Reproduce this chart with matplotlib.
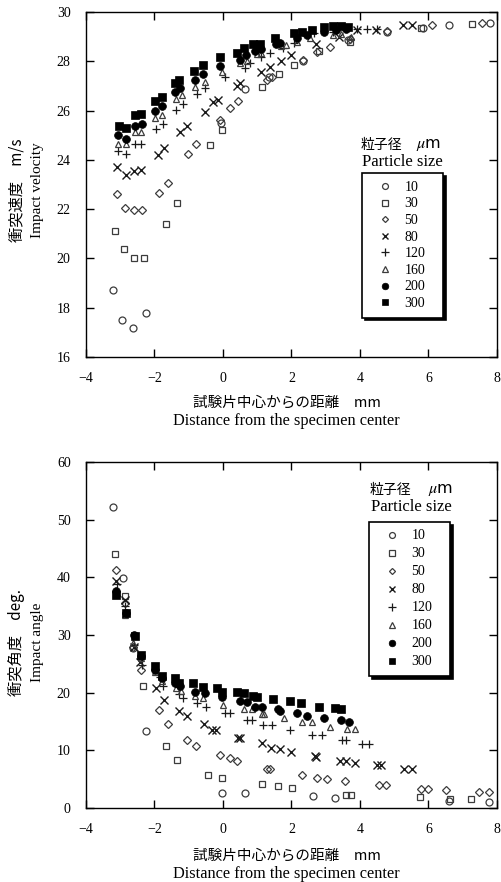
import matplotlib
matplotlib.use("Agg")
import matplotlib.pyplot as plt

plt.rcParams['mathtext.fontset'] = 'stix'
SERIF = ['Liberation Serif', 'Noto Sans CJK JP']
JP = ['Noto Sans CJK JP', 'Liberation Serif']

sizes = ['10', '30', '50', '80', '120', '160', '200', '300']

# ---- impact velocity (m/s) vs distance (mm) ----
vel_x_10 = [-3.21, -2.94, -2.64, -2.25, -0.05, 0.64, 1.33, 2.35, 3.65, 4.8, 5.85, 6.59, 7.8]
vel_y_10 = [18.72, 17.5, 17.17, 17.78, 25.5, 26.86, 27.35, 28.0, 28.85, 29.2, 29.35, 29.47, 29.55]
vel_x_30 = [-3.16, -2.89, -2.60, -2.31, -1.67, -1.34, -0.38, -0.04, 1.13, 1.64, 2.06, 2.8, 3.72, 5.77, 7.28]
vel_y_30 = [21.13, 20.37, 20.0, 20.0, 21.4, 22.26, 24.6, 25.21, 26.95, 27.48, 27.85, 28.4, 28.8, 29.34, 29.51]
vel_x_50 = [-3.09, -2.87, -2.60, -2.36, -1.86, -1.60, -1.03, -0.79, -0.09, 0.21, 0.43, 1.28, 1.43,
            2.33, 2.74, 3.11, 3.7, 4.79, 6.11, 7.57]
vel_y_50 = [22.62, 22.06, 21.97, 21.96, 22.64, 23.05, 24.23, 24.65, 25.62, 26.09, 26.4, 27.24, 27.37,
            28.05, 28.39, 28.57, 28.9, 29.24, 29.47, 29.54]
vel_x_80 = [-3.09, -2.84, -2.60, -2.38, -1.91, -1.72, -1.27, -1.04, -0.54, -0.28, -0.16, 0.40, 0.49,
            1.12, 1.37, 1.69, 2.0, 2.72, 3.4, 3.9, 4.48, 5.27, 5.52]
vel_y_80 = [23.72, 23.39, 23.56, 23.6, 24.2, 24.47, 25.14, 25.38, 25.96, 26.36, 26.43, 27.0, 27.1,
            27.58, 27.78, 28.02, 28.26, 28.7, 29.0, 29.27, 29.27, 29.47, 29.47]
vel_x_120 = [-3.07, -2.83, -2.57, -2.38, -1.96, -1.76, -1.36, -1.16, -0.75, -0.53, 0.06, 0.64, 0.79,
             1.12, 1.37, 1.76, 2.06, 2.65, 3.2, 3.9, 4.2, 4.5]
vel_y_120 = [24.37, 24.24, 24.65, 24.65, 25.24, 25.44, 26.02, 26.26, 26.67, 26.9, 27.35, 27.72, 27.94,
             28.19, 28.32, 28.54, 28.74, 29.15, 29.2, 29.3, 29.3, 29.3]
vel_x_160 = [-3.06, -2.82, -2.57, -2.38, -1.99, -1.79, -1.36, -1.21, -0.82, -0.53, -0.04, 0.49, 0.69,
             0.98, 1.12, 1.70, 1.85, 2.15, 2.55, 3.2, 3.45, 3.75]
vel_y_160 = [24.65, 24.65, 25.12, 25.15, 25.69, 25.82, 26.46, 26.63, 26.97, 27.17, 27.58, 27.94, 28.02,
             28.3, 28.33, 28.6, 28.65, 28.8, 28.95, 29.05, 29.1, 29.0]
vel_x_200 = [-3.06, -2.82, -2.57, -2.36, -1.99, -1.79, -1.40, -1.25, -0.82, -0.58, -0.09, 0.49, 0.66,
             0.93, 1.12, 1.56, 1.66, 2.15, 2.45, 2.95, 3.3, 3.6]
vel_y_200 = [25.0, 24.85, 25.37, 25.45, 26.0, 26.2, 26.75, 26.9, 27.25, 27.5, 27.8, 28.06, 28.25,
             28.4, 28.5, 28.7, 28.75, 28.95, 29.05, 29.2, 29.25, 29.3]
vel_x_300 = [-3.03, -2.82, -2.57, -2.38, -1.99, -1.79, -1.40, -1.29, -0.84, -0.58, -0.09, 0.40, 0.61,
             0.89, 1.08, 1.52, 2.06, 2.3, 2.6, 2.95, 3.2, 3.45, 3.65]
vel_y_300 = [25.37, 25.3, 25.82, 25.85, 26.4, 26.56, 27.1, 27.24, 27.6, 27.85, 28.16, 28.35, 28.55,
             28.7, 28.7, 28.93, 29.13, 29.2, 29.25, 29.4, 29.45, 29.45, 29.4]

# ---- impact angle (deg) vs distance (mm) ----
ang_x_10 = [-3.2, -2.93, -2.62, -2.25, -0.04, 0.64, 2.64, 3.28, 6.59, 7.76]
ang_y_10 = [52.2, 39.9, 27.7, 13.3, 2.6, 2.6, 2.0, 1.75, 1.17, 1.0]
ang_x_30 = [-3.15, -2.87, -2.35, -1.67, -1.34, -0.43, -0.04, 1.13, 1.62, 2.01, 3.6, 3.75, 5.74, 6.64, 7.23]
ang_y_30 = [44.0, 36.7, 21.1, 10.8, 8.27, 5.79, 5.2, 4.2, 3.76, 3.48, 2.2, 2.2, 1.9, 1.58, 1.58]
ang_x_50 = [-3.13, -2.87, -2.64, -2.38, -1.86, -1.6, -1.04, -0.79, -0.09, 0.19, 0.42, 1.28, 1.38,
            2.3, 2.74, 3.05, 3.57, 4.55, 4.75, 5.77, 6.0, 6.5, 7.47, 7.76]
ang_y_50 = [41.2, 35.5, 27.9, 23.9, 17.05, 14.6, 11.8, 10.8, 9.25, 8.7, 8.1, 6.83, 6.8,
            5.8, 5.2, 5.04, 4.63, 4.05, 4.05, 3.3, 3.3, 3.07, 2.7, 2.7]
ang_x_80 = [-3.13, -2.87, -2.6, -2.43, -1.96, -1.73, -1.28, -1.06, -0.55, -0.33, -0.2, 0.45, 0.5,
            1.13, 1.4, 1.67, 1.98, 2.69, 2.72, 3.42, 3.6, 3.86, 4.5, 4.6, 5.28, 5.52]
ang_y_80 = [39.3, 36.0, 28.0, 25.4, 20.8, 18.8, 16.9, 15.9, 14.6, 13.6, 13.5, 12.15, 12.1,
            11.2, 10.4, 10.3, 9.65, 8.96, 8.9, 8.1, 8.1, 7.8, 7.4, 7.4, 6.77, 6.7]
ang_x_120 = [-3.1, -2.85, -2.6, -2.36, -1.84, -1.75, -1.28, -1.16, -0.75, -0.5, 0.06, 0.2, 0.69,
             0.86, 1.16, 1.42, 1.96, 2.6, 2.9, 3.47, 3.6, 4.07, 4.25]
ang_y_120 = [38.9, 35.0, 28.3, 24.8, 22.8, 21.2, 19.8, 19.1, 18.2, 17.6, 16.5, 16.4, 15.3,
             15.2, 14.45, 14.4, 13.47, 12.7, 12.7, 11.85, 11.85, 11.1, 11.1]
ang_x_160 = [-3.1, -2.85, -2.62, -2.38, -1.99, -1.79, -1.38, -1.24, -0.82, -0.58, 0.0, 0.6, 0.86,
             1.13, 1.2, 1.77, 2.3, 2.6, 3.13, 3.62, 3.86]
ang_y_160 = [37.3, 33.5, 28.6, 26.0, 23.5, 22.0, 20.8, 20.3, 19.35, 19.0, 17.9, 17.2, 17.2,
             16.35, 16.35, 15.6, 15.0, 15.0, 14.05, 13.7, 13.7]
ang_x_200 = [-3.11, -2.84, -2.60, -2.38, -1.99, -1.79, -1.40, -1.26, -0.82, -0.53, -0.04, 0.50, 0.69,
             0.94, 1.13, 1.62, 1.67, 2.16, 2.45, 2.94, 3.45, 3.67]
ang_y_200 = [37.55, 33.8, 30.0, 26.3, 24.0, 22.5, 21.7, 21.1, 20.2, 19.9, 19.25, 18.5, 18.3,
             17.6, 17.6, 17.2, 16.76, 16.5, 16.0, 15.6, 15.3, 15.0]
ang_x_300 = [-3.11, -2.84, -2.57, -2.40, -1.99, -1.79, -1.40, -1.29, -0.87, -0.58, -0.17, -0.04, 0.40,
             0.60, 0.89, 0.99, 1.47, 1.96, 2.27, 2.79, 3.28, 3.45]
ang_y_300 = [37.0, 33.8, 29.8, 26.6, 24.6, 22.9, 22.5, 21.7, 21.6, 21.0, 20.8, 20.2, 20.05,
             20.0, 19.36, 19.3, 18.9, 18.5, 18.2, 17.6, 17.3, 17.2]

vel_series = [(vel_x_10, vel_y_10), (vel_x_30, vel_y_30), (vel_x_50, vel_y_50), (vel_x_80, vel_y_80),
              (vel_x_120, vel_y_120), (vel_x_160, vel_y_160), (vel_x_200, vel_y_200), (vel_x_300, vel_y_300)]
ang_series = [(ang_x_10, ang_y_10), (ang_x_30, ang_y_30), (ang_x_50, ang_y_50), (ang_x_80, ang_y_80),
              (ang_x_120, ang_y_120), (ang_x_160, ang_y_160), (ang_x_200, ang_y_200), (ang_x_300, ang_y_300)]

GRAY = '#3c3c3c'
styles = [
    dict(marker='o', ms=5.0, mfc='none', mec=GRAY, mew=0.9),
    dict(marker='s', ms=5.0, mfc='none', mec=GRAY, mew=0.9),
    dict(marker='D', ms=3.6, mfc='none', mec=GRAY, mew=0.9),
    dict(marker='x', ms=5.5, mfc='none', mec='#1a1a1a', mew=1.0),
    dict(marker='+', ms=6.0, mfc='none', mec='#1a1a1a', mew=0.9),
    dict(marker='^', ms=5.0, mfc='none', mec=GRAY, mew=0.9),
    dict(marker='o', ms=5.6, mfc='black', mec='black', mew=0.5),
    dict(marker='s', ms=5.4, mfc='black', mec='black', mew=0.5),
]

W, H = 502, 882
fig = plt.figure(figsize=(W / 100, H / 100), dpi=100)


def px_axes(left, top, right, bottom):
    return fig.add_axes([left / W, 1 - bottom / H, (right - left) / W, (bottom - top) / H])


def style_axes(ax):
    for s in ax.spines.values():
        s.set_linewidth(1.0)
    ax.tick_params(direction='in', top=True, right=True, length=5.5, width=1.0,
                   pad=11, labelsize=10)
    for lab in ax.get_xticklabels() + ax.get_yticklabels():
        lab.set_fontfamily(SERIF)


def draw_panel(ax, series, ylim, yticks, leg_box, spacing, title_jp_x, title_mu_x, title_y,
               ylab_jp, ylab_en, ylab_cy):
    for (xs, ys), st, lab in zip(series, styles, sizes):
        ax.plot(xs, ys, ls='none', label=lab, **st)
    ax.set_xlim(-4, 8)
    ax.set_ylim(*ylim)
    ax.set_xticks(range(-4, 9, 2))
    ax.set_yticks(yticks)
    style_axes(ax)
    leg = ax.legend(loc='upper left', bbox_to_anchor=leg_box, mode='expand', frameon=True,
                    fancybox=False, shadow={'color': 'black', 'alpha': 1.0}, framealpha=1.0,
                    edgecolor='black', prop={'family': SERIF, 'size': 10}, handlelength=2.2,
                    handletextpad=0.3, labelspacing=spacing, borderpad=0.55, borderaxespad=0,
                    markerscale=0.85)
    leg.get_frame().set_linewidth(1.2)
    fig.text(title_jp_x / W, 1 - title_y / H, '粒子径', family=JP, fontsize=10, ha='left', va='center')
    fig.text(title_mu_x / W, 1 - title_y / H, r'$\mu$m', fontsize=11.5, ha='left', va='center')
    fig.text((title_jp_x + 41) / W, 1 - (title_y + 17) / H, 'Particle size', family=SERIF, fontsize=12,
             ha='center', va='center')
    fig.text(17 / W, 1 - ylab_cy / H, ylab_jp, family=JP, fontsize=11, rotation=90,
             ha='center', va='center')
    fig.text(38 / W, 1 - ylab_cy / H, ylab_en, family=SERIF, fontsize=11, rotation=90,
             ha='center', va='center')


def draw_xlabel(y_jp):
    fig.text(287 / W, 1 - y_jp / H, '試験片中心からの距離　mm', family=JP, fontsize=10.5,
             ha='center', va='center')
    fig.text(286 / W, 1 - (y_jp + 18) / H, 'Distance from the specimen center', family=SERIF,
             fontsize=11.7, ha='center', va='center')


ax1 = px_axes(86, 12, 497, 357)
draw_panel(ax1, vel_series, (16, 30), range(16, 31, 2), (0.672, 0.0, 0.197, 0.533), 0.26,
           361, 416, 145, '衝突速度　m/s', 'Impact velocity', 190)
draw_xlabel(403)

ax2 = px_axes(86, 462, 497, 808)
draw_panel(ax2, ang_series, (0, 60), range(0, 61, 10), (0.689, 0.0, 0.197, 0.827), 0.36,
           370, 428, 490, '衝突角度　deg.', 'Impact angle', 642)
draw_xlabel(856)

fig.savefig('out.png', dpi=100)
